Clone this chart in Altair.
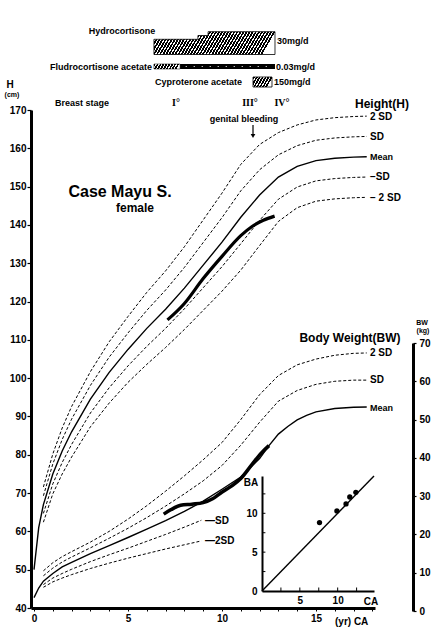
import altair as alt
import pandas as pd

# ---------------- data ----------------
# Height standard curves (age in years, height in cm)
H_AGES = [0.5, 1, 1.5, 2, 3, 4, 5, 6, 7, 8, 9, 10, 11, 12, 13, 14, 15, 16, 17, 17.7]
H_P2SD = [71.6, 80.2, 87, 92.6, 101.7, 109.5, 116.1, 122.4, 128, 134.3, 141.3, 148.3, 155.8, 161, 164.1, 166.1, 167.4, 168, 168.3, 168.4]
H_P1SD = [69.3, 77.6, 84, 89.3, 98.1, 105.5, 111.8, 117.7, 123, 128.9, 135.4, 141.9, 148.9, 154.4, 158.3, 160.7, 162.1, 162.7, 163, 163.1]
H_M1SD = [64.7, 72.4, 78, 82.7, 90.9, 97.5, 103.2, 108.3, 113, 118.1, 123.6, 129.1, 135.1, 141.2, 146.7, 149.9, 151.5, 152.1, 152.4, 152.5]
H_M2SD = [62.4, 69.8, 75, 79.4, 87.3, 93.5, 98.9, 103.6, 108, 112.7, 117.7, 122.7, 128.2, 134.6, 140.9, 144.5, 146.2, 146.8, 147.1, 147.2]
H_MEAN_AGES = [0, 0.25, 0.5, 1, 1.5, 2, 3, 4, 5, 6, 7, 8, 9, 10, 11, 12, 13, 14, 15, 16, 17, 17.7]
H_MEAN = [50, 61, 67, 75, 81, 86, 94.5, 101.5, 107.5, 113, 118, 123.5, 129.5, 135.5, 142, 147.8, 152.5, 155.3, 156.8, 157.4, 157.7, 157.8]

# Body weight standard curves (kg)
W_AGES = [0.5, 1, 1.5, 2, 3, 4, 5, 6, 7, 8, 9, 10, 11, 12, 13, 14, 15, 16, 17, 17.7]
W_P2SD = [10.5, 12.6, 14.2, 15.5, 18, 20.8, 24, 27.5, 31.3, 35.3, 39.5, 44, 50, 56.5, 61.5, 64.3, 65.8, 66.8, 67.3, 67.4]
W_P1SD = [9.2, 11.2, 12.8, 14.1, 16.5, 19, 21.6, 24.4, 27.4, 30.6, 34, 38, 43.3, 49.3, 54.8, 57.6, 59.2, 60, 60.3, 60.3]
W_MEAN_AGES = [0, 0.25, 0.5, 1, 1.5, 2, 3, 4, 5, 6, 7, 8, 9, 10, 11, 12, 12.5, 13, 13.5, 14, 14.5, 15, 16, 17, 17.7]
W_MEAN = [3.5, 6, 7.8, 9.8, 11.5, 12.7, 15, 17.1, 19.2, 21.4, 23.6, 26, 28.7, 31.8, 35, 39.8, 43.2, 46.2, 48.2, 49.9, 51.1, 52, 52.9, 53.2, 53.3]
W_LOW_AGES = [0.5, 1, 1.5, 2, 3, 4, 5, 6, 7, 8, 8.9]
W_M1SD = [6.9, 8.6, 9.8, 10.9, 12.9, 14.7, 16.4, 18.2, 20, 21.9, 23.7]
W_M2SD = [6.2, 7.6, 8.6, 9.5, 11.1, 12.5, 13.8, 15, 16.2, 17.3, 18.3]

# Patient
P_H_AGES = [7.1, 8, 9, 10, 11, 11.6, 12.2, 12.8]
P_H = [115.2, 119.5, 126, 131.8, 137.2, 139.6, 141.2, 142.3]
P_W_AGES = [6.9, 7.3, 7.8, 8.4, 9, 9.5, 9.9, 10.5, 11, 11.6, 12.1, 12.5]
P_W = [25.3, 26.5, 27.6, 27.9, 28.3, 29.3, 30.7, 32.6, 34.6, 38.3, 41.3, 43.2]

# Inset: bone age vs chronological age
CA = [7.6, 9.9, 11.1, 11.6, 12.4]
BA = [8.8, 10.3, 11.2, 12.1, 12.7]
DIAG = [0, 14.8]
INSET_TICKS = [2.5, 5, 7.5, 10, 12.5]

# Treatment periods (age)
HYDRO_AGES = [6.38, 8.72, 9.26, 12.82]
HYDRO_DOSE = [20, 25, 30, 30]
FLUDRO_HATCH = [6.38, 7.77]
FLUDRO_LINE = [7.77, 12.82]
CYPRO = [11.65, 12.66]

BREAST_STAGES = ["I°", "III°", "IV°"]
BREAST_AGES = [7.55, 11.49, 13.19]
BLEEDING_AGE = [11.65]

# ---------------- helpers ----------------
FONT = "Liberation Sans"
NARROW = "'Liberation Sans Narrow', 'Liberation Sans', sans-serif"

XS = alt.Scale(domain=[-0.16, 18.14], nice=False, zero=False)
HS = alt.Scale(domain=[40, 170], nice=False, zero=False)
WS = alt.Scale(domain=[0, 70], range=[501, 233], nice=False, zero=False)
CAS = alt.Scale(domain=[0, 14.8], range=[231, 343], nice=False, zero=False)
BAS = alt.Scale(domain=[0, 14.8], range=[481, 366], nice=False, zero=False)
DS = alt.Scale(domain=[0, 30], range=[-55.5, -78.3], nice=False, zero=False)


def long(ages, series):
    rows = []
    for name, vals in series.items():
        for a, v in zip(ages, vals):
            rows.append({"age": a, "value": v, "curve": name})
    return pd.DataFrame(rows)


def hatch(n, b, frac=0.62):
    stops = []
    for i in range(n):
        s, m, e = i / n, (i + frac) / n, (i + 1) / n
        stops += [
            alt.GradientStop(color="black", offset=s),
            alt.GradientStop(color="black", offset=m),
            alt.GradientStop(color="white", offset=m),
            alt.GradientStop(color="white", offset=e),
        ]
    return alt.LinearGradient(gradient="linear", stops=stops, x1=0, y1=0, x2=1, y2=b)


def txt(s, px, py, size=9, align="center", weight="bold"):
    return alt.Chart(pd.DataFrame({"t": [s]})).mark_text(
        font=FONT, fontSize=size, fontWeight=weight, align=align, baseline="middle", color="black"
    ).encode(x=alt.value(px), y=alt.value(py), text="t:N")


AX = dict(labelFont=NARROW, labelFontWeight="bold", labelFontSize=10, labelColor="black",
          domainColor="black", tickColor="black", grid=False, title=None)

x_main_axis = alt.Axis(orient="bottom", values=list(range(0, 19)),
                       labelExpr="datum.value % 5 === 0 ? datum.label : ''",
                       tickSize=3, tickWidth=1, domainWidth=3, labelPadding=2, **AX)
h_axis = alt.Axis(orient="left", values=list(range(40, 171, 10)), tickSize=4, tickWidth=1.2,
                  domainWidth=3, labelPadding=1, **AX)
w_axis = alt.Axis(orient="right", offset=38, values=list(range(0, 71, 10)), tickSize=3,
                  tickWidth=1.2, domainWidth=3, labelPadding=3, **AX)
ca_axis = alt.Axis(orient="bottom", offset=-17, values=[5, 10], ticks=False, domainWidth=2,
                   labelPadding=4, **AX)
ba_axis = alt.Axis(orient="left", offset=-231, values=[0, 5, 10], ticks=False, domainWidth=2,
                   labelPadding=5, **AX)

layers = []

# Height standard curves
h_dash = long(H_AGES, {"+2SD": H_P2SD, "+SD": H_P1SD, "-SD": H_M1SD, "-2SD": H_M2SD})
layers.append(alt.Chart(h_dash).mark_line(strokeDash=[3, 2], strokeWidth=1, color="black").encode(
    x=alt.X("age:Q", scale=XS, axis=None), y=alt.Y("value:Q", scale=HS, axis=None), detail="curve:N"))
h_mean = pd.DataFrame({"age": H_MEAN_AGES, "value": H_MEAN})
layers.append(alt.Chart(h_mean).mark_line(strokeWidth=1.4, color="black").encode(
    x=alt.X("age:Q", scale=XS, axis=x_main_axis), y=alt.Y("value:Q", scale=HS, axis=h_axis)))

# Weight standard curves
w_dash = pd.concat([long(W_AGES, {"+2SD": W_P2SD, "+SD": W_P1SD}),
                    long(W_LOW_AGES, {"-SD": W_M1SD, "-2SD": W_M2SD})])
layers.append(alt.Chart(w_dash).mark_line(strokeDash=[3, 2], strokeWidth=1, color="black").encode(
    x=alt.X("age:Q", scale=XS, axis=None), y=alt.Y("value:Q", scale=WS, axis=None), detail="curve:N"))
w_mean = pd.DataFrame({"age": W_MEAN_AGES, "value": W_MEAN})
layers.append(alt.Chart(w_mean).mark_line(strokeWidth=1.4, color="black").encode(
    x=alt.X("age:Q", scale=XS, axis=None), y=alt.Y("value:Q", scale=WS, axis=w_axis)))

# Patient
layers.append(alt.Chart(pd.DataFrame({"age": P_H_AGES, "value": P_H})).mark_line(
    strokeWidth=3.2, color="black", interpolate="monotone").encode(
    x=alt.X("age:Q", scale=XS, axis=None), y=alt.Y("value:Q", scale=HS, axis=None)))
layers.append(alt.Chart(pd.DataFrame({"age": P_W_AGES, "value": P_W})).mark_line(
    strokeWidth=3.5, color="black", interpolate="monotone").encode(
    x=alt.X("age:Q", scale=XS, axis=None), y=alt.Y("value:Q", scale=WS, axis=None)))

# Inset
layers.append(alt.Chart(pd.DataFrame({"ca": DIAG, "ba": DIAG})).mark_line(strokeWidth=1.4, color="black").encode(
    x=alt.X("ca:Q", scale=CAS, axis=ca_axis), y=alt.Y("ba:Q", scale=BAS, axis=ba_axis)))
layers.append(alt.Chart(pd.DataFrame({"ca": CA, "ba": BA})).mark_circle(size=28, color="black", opacity=1).encode(
    x=alt.X("ca:Q", scale=CAS, axis=None), y=alt.Y("ba:Q", scale=BAS, axis=None)))
layers.append(alt.Chart(pd.DataFrame({"ca": INSET_TICKS})).mark_rule(strokeWidth=1, color="black").encode(
    x=alt.X("ca:Q", scale=CAS, axis=None),
    y=alt.YDatum(0, scale=BAS, axis=None), y2=alt.Y2Datum(0.45)))
layers.append(alt.Chart(pd.DataFrame({"ba": INSET_TICKS})).mark_rule(strokeWidth=1, color="black").encode(
    y=alt.Y("ba:Q", scale=BAS, axis=None),
    x=alt.XDatum(0, scale=CAS, axis=None), x2=alt.X2Datum(0.45)))

# Treatments
layers.append(alt.Chart(pd.DataFrame({"age": HYDRO_AGES, "dose": HYDRO_DOSE})).mark_area(
    interpolate="step-after", fill=hatch(40, 0.11), stroke="black", strokeWidth=0.8).encode(
    x=alt.X("age:Q", scale=XS, axis=None), y=alt.Y("dose:Q", scale=DS, axis=None), y2=alt.Y2Datum(0)))
layers.append(alt.Chart(pd.DataFrame({"a": [FLUDRO_HATCH[0]], "b": [FLUDRO_HATCH[1]]})).mark_rect(
    fill=hatch(9, 0.11), stroke="black", strokeWidth=0.5).encode(
    x=alt.X("a:Q", scale=XS, axis=None), x2="b:Q", y=alt.value(-46), y2=alt.value(-41)))
layers.append(alt.Chart(pd.DataFrame({"a": [FLUDRO_LINE[0]], "b": [FLUDRO_LINE[1]]})).mark_rect(
    color="black").encode(
    x=alt.X("a:Q", scale=XS, axis=None), x2="b:Q", y=alt.value(-46), y2=alt.value(-41)))
layers.append(alt.Chart(pd.DataFrame({"a": [FLUDRO_LINE[0] + 0.3], "b": [FLUDRO_LINE[1] - 0.3]})).mark_rule(
    color="white", strokeWidth=1, strokeDash=[1, 7]).encode(
    x=alt.X("a:Q", scale=XS, axis=None), x2="b:Q", y=alt.value(-43.5)))
layers.append(alt.Chart(pd.DataFrame({"a": [CYPRO[0]], "b": [CYPRO[1]]})).mark_rect(
    fill=hatch(7, 0.3), stroke="black", strokeWidth=0.8).encode(
    x=alt.X("a:Q", scale=XS, axis=None), x2="b:Q", y=alt.value(-33), y2=alt.value(-23)))

# Breast stages and genital bleeding arrow
layers.append(alt.Chart(pd.DataFrame({"age": BREAST_AGES, "s": BREAST_STAGES})).mark_text(
    font="Liberation Serif", fontSize=10, fontWeight="bold", baseline="middle", color="black").encode(
    x=alt.X("age:Q", scale=XS, axis=None), y=alt.value(-7), text="s:N"))
layers.append(alt.Chart(pd.DataFrame({"age": BLEEDING_AGE})).mark_rule(color="black", strokeWidth=1.2).encode(
    x=alt.X("age:Q", scale=XS, axis=None), y=alt.value(15), y2=alt.value(25)))
layers.append(alt.Chart(pd.DataFrame({"age": BLEEDING_AGE})).mark_point(
    shape="triangle-down", filled=True, size=22, color="black", opacity=1).encode(
    x=alt.X("age:Q", scale=XS, axis=None), y=alt.value(26)))

# Texts
texts = [
    ("Hydrocortisone", 91, -79, 9, "center"),
    ("30mg/d", 246, -69, 9, "left"),
    ("Fludrocortisone acetate", 121, -43, 9, "right"),
    ("0.03mg/d", 245, -43, 9, "left"),
    ("Cyproterone acetate", 211, -28, 9, "right"),
    ("150mg/d", 243, -28, 9, "left"),
    ("H", -21, -25, 10, "center"),
    ("(cm)", -19, -15, 7, "center"),
    ("Breast stage", 24, -7, 9, "left"),
    ("genital bleeding", 213, 9, 9, "center"),
    ("Height(H)", 351, -6, 12, "center"),
    ("2 SD", 339, 7, 10, "left"),
    ("SD", 339, 27, 10, "left"),
    ("Mean", 339, 47, 9, "left"),
    ("\u2212SD", 339, 67, 10, "left"),
    ("\u2212 2 SD", 339, 88, 10, "left"),
    ("Case Mayu S.", 89, 82, 16, "center"),
    ("female", 104, 98, 12, "center"),
    ("Body Weight(BW)", 319, 228, 12, "center"),
    ("2 SD", 339, 243, 10, "left"),
    ("SD", 339, 270, 10, "left"),
    ("Mean", 339, 298, 9, "left"),
    ("\u2014SD", 174, 411, 10, "left"),
    ("\u20142SD", 174, 431, 10, "left"),
    ("BW", 391, 213, 7, "center"),
    ("(kg)", 392, 221, 7, "center"),
    ("BA", 220, 373, 10, "center"),
    ("CA", 340, 492, 10, "center"),
    ("(yr) CA", 304, 512, 10, "left"),
]
for s, px, py, size, align in texts:
    layers.append(txt(s, px, py, size, align))

chart = alt.layer(*layers).resolve_scale(x="independent", y="independent").properties(
    width=344, height=498,
    autosize=alt.AutoSizeParams(type="none"),
    padding={"left": 31, "top": 110, "right": 62, "bottom": 27},
    background="white",
).configure_view(stroke=None)

chart.save("out.html", embed_options={"renderer": "svg", "actions": False})
